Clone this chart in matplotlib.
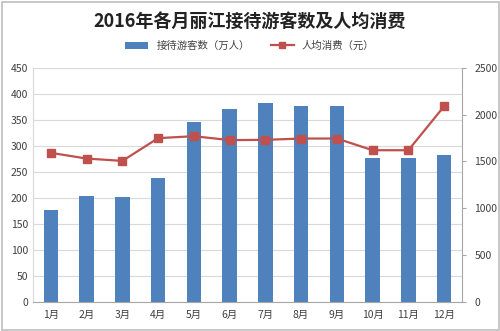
import matplotlib.pyplot as plt
import numpy as np

plt.rcParams['font.family'] = ['Noto Sans CJK SC', 'DejaVu Sans']

# data
months = ['1月', '2月', '3月', '4月', '5月', '6月', '7月', '8月', '9月', '10月', '11月', '12月']
visitors = [176, 203, 201, 238, 346, 371, 383, 376, 376, 276, 276, 283]
spending = [1592, 1531, 1506, 1749, 1770, 1728, 1731, 1745, 1745, 1620, 1620, 2090]

fig = plt.figure(figsize=(5, 3.31), dpi=100)
# grey frame around the picture
fig.patches.append(plt.Rectangle((0.003, 0.004), 0.994, 0.99, transform=fig.transFigure,
                                 fill=False, edgecolor='#bfbfbf', linewidth=1.2))

ax = fig.add_axes([0.066, 0.088, 0.858, 0.707])
x = np.arange(len(months))

bars = ax.bar(x, visitors, width=0.4, color='#4f81bd', label='接待游客数（万人）', zorder=2)
ax.set_ylim(0, 450)
ax.set_yticks(range(0, 451, 50))
ax.set_xlim(-0.5, 11.5)
ax.set_xticks(x)
ax.set_xticklabels(months)
ax.grid(axis='y', color='#d9d9d9', linewidth=0.8, zorder=0)
ax.tick_params(axis='both', labelsize=7.5, colors='#404040', length=0)
ax.tick_params(axis='x', pad=6)
for s in ['top', 'right']:
    ax.spines[s].set_visible(False)
ax.spines['left'].set_color('#d9d9d9')
ax.spines['bottom'].set_color('#a6a6a6')

ax2 = ax.twinx()
line, = ax2.plot(x, spending, color='#c0504d', marker='s', markersize=5.5,
                 linewidth=1.6, label='人均消费（元）', zorder=3)
ax2.set_ylim(0, 2500)
ax2.set_yticks(range(0, 2501, 500))
ax2.tick_params(axis='y', labelsize=7.5, colors='#404040', length=3, direction='out', pad=6)
ax2.tick_params(axis='y', color='#a6a6a6')
for s in ['top', 'left', 'bottom']:
    ax2.spines[s].set_visible(False)
ax2.spines['right'].set_color('#a6a6a6')

fig.text(0.5, 0.935, '2016年各月丽江接待游客数及人均消费', ha='center', va='center',
         fontsize=13, fontweight='bold', color='#222222')
fig.legend([bars, line], ['接待游客数（万人）', '人均消费（元）'], loc='center',
           bbox_to_anchor=(0.5, 0.862), ncol=2, frameon=False, fontsize=7.5,
           handlelength=2.2, columnspacing=2.0, labelcolor='#404040', markerscale=0.8)

fig.savefig('out.png', dpi=100)
